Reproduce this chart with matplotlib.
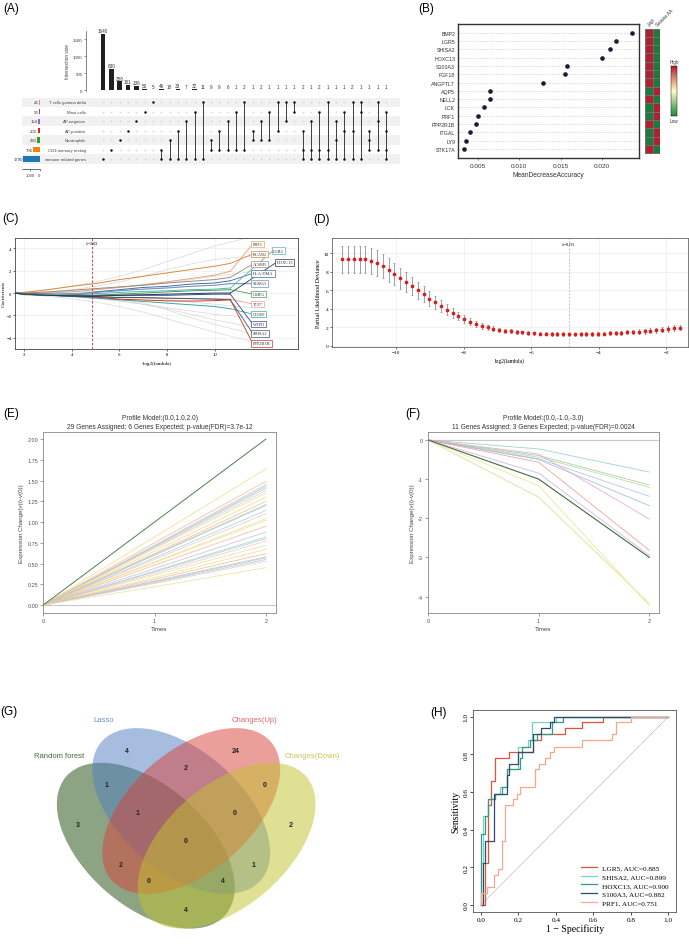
import numpy as np
import matplotlib
matplotlib.use("Agg")
import matplotlib.pyplot as plt
from matplotlib.patches import Ellipse
from matplotlib.colors import LinearSegmentedColormap, ListedColormap

W, H = 689, 945
SANS = ['Liberation Sans', 'DejaVu Sans']
SERIF = ['Liberation Serif', 'DejaVu Serif']
plt.rcParams['font.family'] = SANS

# ---------------- data ----------------
# (A) upset
set_names = ['T cells gamma delta', 'Mast cells', 'AP-negative', 'AP-positive',
             'Neutrophils', 'CD4 memory resting', 'immune related genes']
set_sizes = [26, 90, 154, 202, 291, 706, 1790]
set_colors = ['#e377c2', '#8c564b', '#9467bd', '#d62728', '#2ca02c', '#ff7f0e', '#1f77b4']
inter_counts = [1640, 630, 258, 151, 136, 50, 5, 46, 18, 33, 7, 32, 11, 9, 9, 6, 1, 2,
                1, 2, 1, 1, 1, 1, 2, 1, 2, 1, 1, 1, 2, 1, 1, 1, 1]
inter_sets = [[6], [5], [4], [3], [2], [1], [0], [5, 6], [4, 6], [3, 6], [2, 6], [1, 6],
              [0, 6], [4, 5], [3, 5], [2, 5], [1, 5], [0, 5], [3, 4], [2, 4], [1, 4],
              [0, 3], [0, 2], [0, 1], [3, 5, 6], [2, 5, 6], [1, 5, 6], [0, 5, 6],
              [2, 4, 6], [1, 3, 6], [0, 3, 6], [0, 1, 6], [3, 4, 5], [0, 2, 5], [1, 3, 5, 6]]

# (B) random forest importance
rf_genes = ['BMP2', 'LGR5', 'SHISA2', 'HOXC13', 'S100A3', 'FGF18', 'ANGPTL7', 'AQP5',
            'NELL2', 'LCK', 'PRF1', 'PPP2R1B', 'ITGAL', 'LY9', 'STK17A']
rf_mda = [0.0236, 0.0216, 0.0209, 0.0200, 0.0158, 0.0155, 0.0129, 0.0065, 0.0065,
          0.0057, 0.0050, 0.0048, 0.0041, 0.0036, 0.0034]
heat_aap = [1, 1, 1, 1, 1, 1, 1, 0, 1, 0, 0, 1, 0, 0, 1]
heat_severe = [0, 0, 0, 0, 0, 0, 0, 1, 0, 1, 1, 0, 1, 1, 0]

# (C) lasso coefficient paths
lasso_x = [1.62, 2, 3, 4, 5, 6, 7, 8, 9, 10, 10.66]
lasso_paths = {
    'PRF1':    [0, -0.05, 0, 0.1, 0.3, 0.5, 0.75, 1.0, 1.3, 1.6, 1.95],
    'RCAN2':   [0, 0.05, 0.3, 0.6, 0.85, 1.2, 1.5, 1.8, 2.1, 2.4, 2.65],
    'ACSM5':   [0, 0, 0.1, 0.25, 0.4, 0.55, 0.7, 0.9, 1.05, 1.2, 1.4],
    'HLA-DMA': [0, -0.1, -0.2, -0.2, 0.1, 0.3, 0.5, 0.6, 0.8, 0.9, 1.1],
    'S100A3':  [0, -0.05, -0.1, -0.05, 0.05, 0.2, 0.35, 0.45, 0.6, 0.7, 0.85],
    'GMFG':    [0, -0.15, -0.2, -0.25, -0.2, -0.1, 0, 0.1, 0.2, 0.25, 0.3],
    'TCF7':    [0, -0.05, -0.15, -0.25, -0.35, -0.4, -0.45, -0.5, -0.5, -0.5, -0.55],
    'CD109':   [0, -0.1, -0.2, -0.3, -0.45, -0.6, -0.75, -0.9, -1.05, -1.2, -1.4],
    'WIPI1':   [0, -0.1, -0.1, -0.15, -0.2, -0.2, -0.2, -0.2, -0.15, -0.1, -0.1],
    'SHISA2':  [0, -0.1, -0.2, -0.3, -0.35, -0.4, -0.4, -0.45, -0.5, -0.55, -0.6],
    'PPP2R1B': [0, -0.05, -0.15, -0.2, -0.35, -0.55, -0.62, -0.7, -0.72, -0.68, -0.6],
    'LGR5':    [0, -0.1, -0.15, -0.1, -0.05, 0.05, 0.15, 0.2, 0.3, 0.35, 0.45],
    'HOXC13':  [0, -0.1, -0.2, -0.25, -0.3, -0.2, -0.15, -0.1, -0.05, 0, 0.0],
}
lasso_colors = {'PRF1': '#E8A27C', 'RCAN2': '#D98A3D', 'ACSM5': '#9E8C7A',
                'HLA-DMA': '#3A6FB0', 'S100A3': '#6C8EBF', 'GMFG': '#4E9A58',
                'TCF7': '#F0A090', 'CD109': '#3BA7A0', 'WIPI1': '#2F4F8F',
                'SHISA2': '#3D5A6C', 'PPP2R1B': '#C0392B', 'LGR5': '#5AB4AC',
                'HOXC13': '#1F3A5F'}
lasso_label_pos = {'PRF1': (11.6, 4.39), 'RCAN2': (11.6, 3.49), 'ACSM5': (11.6, 2.6),
                   'HLA-DMA': (11.6, 1.76), 'S100A3': (11.6, 0.87), 'GMFG': (11.6, -0.09),
                   'TCF7': (11.6, -0.98), 'CD109': (11.6, -1.88), 'WIPI1': (11.6, -2.78),
                   'SHISA2': (11.6, -3.61), 'PPP2R1B': (11.6, -4.5),
                   'LGR5': (12.45, 3.79), 'HOXC13': (12.6, 2.75)}
gray_x = [1.62, 2, 3, 4, 5, 6, 7, 8, 9, 10, 11.5]
gray_paths = [
    [0, 0.1, 0.3, 0.6, 1.0, 1.5, 2.1, 2.8, 3.5, 4.2, 5.0],
    [0, 0, 0.1, 0.3, 0.6, 1.0, 1.5, 2.1, 2.6, 3.0, 3.3],
    [0, -0.05, -0.1, -0.2, -0.4, -0.7, -1.0, -1.4, -1.9, -2.4, -3.0],
    [0, -0.1, -0.3, -0.5, -0.8, -1.2, -1.7, -2.3, -2.9, -3.5, -4.3],
    [0, -0.1, -0.2, -0.3, -0.5, -0.7, -1.0, -1.3, -1.6, -1.9, -2.2],
    [0, 0.05, 0.1, 0.2, 0.35, 0.5, 0.7, 0.9, 1.2, 1.5, 1.9],
    [0, -0.05, -0.1, -0.15, -0.2, -0.3, -0.4, -0.6, -0.8, -1.0, -1.3],
    [0, 0, 0.05, 0.1, 0.15, 0.25, 0.35, 0.5, 0.6, 0.7, 0.8],
    [0, -0.05, -0.1, -0.2, -0.3, -0.5, -0.9, -1.5, -2.2, -2.8, -3.6],
]

# (D) cross-validation
cv_dev = [9.35, 9.35, 9.35, 9.35, 9.33, 9.2, 8.95, 8.6, 8.2, 7.75,
          7.3, 6.9, 6.45, 6.0, 5.55, 5.1, 4.7, 4.3, 3.9, 3.55,
          3.2, 2.9, 2.6, 2.35, 2.15, 1.98, 1.84, 1.72, 1.62, 1.54,
          1.47, 1.42, 1.38, 1.34, 1.31, 1.29, 1.27, 1.25, 1.24, 1.23,
          1.23, 1.24, 1.25, 1.27, 1.29, 1.31, 1.34, 1.37, 1.40, 1.44,
          1.48, 1.52, 1.57, 1.62, 1.68, 1.74, 1.81, 1.88, 1.96]
cv_se = [1.45, 1.45, 1.45, 1.45, 1.45, 1.42, 1.38, 1.33, 1.28, 1.22,
         1.15, 1.07, 0.99, 0.92, 0.85, 0.78, 0.71, 0.64, 0.58, 0.52,
         0.47, 0.42, 0.38, 0.34, 0.31, 0.28, 0.26, 0.24, 0.22, 0.21,
         0.20, 0.19, 0.19, 0.18, 0.18, 0.18, 0.18, 0.18, 0.18, 0.18,
         0.18, 0.18, 0.19, 0.19, 0.20, 0.20, 0.21, 0.22, 0.22, 0.23,
         0.24, 0.25, 0.26, 0.27, 0.28, 0.29, 0.30, 0.31, 0.32]
cv_loglam = np.linspace(-11.6, -1.6, len(cv_dev))
lambda_min_log2 = -4.89

# (E) / (F) STEM profiles
times = [0, 1, 2]
e_model = [0.0, 1.0, 2.0]
e_mid = [0.82, 0.75, 0.72, 0.71, 0.70, 0.69, 0.68, 0.65, 0.62, 0.61, 0.60, 0.57, 0.55, 0.52,
         0.51, 0.48, 0.44, 0.41, 0.40, 0.38, 0.36, 0.33, 0.31, 0.29, 0.28, 0.27, 0.26, 0.22]
e_end = [1.64, 1.49, 1.45, 1.43, 1.41, 1.38, 1.35, 1.30, 1.25, 1.21, 1.20, 1.14, 1.10, 1.04,
         1.02, 0.95, 0.88, 0.82, 0.80, 0.77, 0.72, 0.67, 0.62, 0.58, 0.57, 0.55, 0.53, 0.45]
f_model = [0.0, -1.0, -3.0]
f_mid = [-0.23, -0.40, -0.44, -0.48, -0.50, -0.36, -0.57, -0.85, -1.46, -1.17]
f_end = [-0.82, -1.15, -1.21, -1.44, -1.68, -2.02, -2.82, -2.95, -4.18, -4.23]
f_colors = ['#8FD3C8', '#9CCB9A', '#B5D99C', '#A9C4E4', '#9DB8E0', '#E8A6C8',
            '#F09A8A', '#C8B3E0', '#D4E08A', '#EDE58A']
e_palette = ['#F3D98B', '#F4B98A', '#C9B8E3', '#A9D3A6', '#A7CBE3', '#F2C2C8', '#E3E39A']

# (G) venn
venn_names = ['Random forest', 'Lasso', 'Changes(Up)', 'Changes(Down)']
venn_counts = [4, 24, 2, 1, 0, 3, 1, 0, 2, 0, 2, 1, 0, 4, 4]
venn_count_xy = [(126.7, 752), (235.7, 752), (186, 769), (106.7, 786), (265, 786),
                 (78.3, 826), (137.7, 814), (234.3, 814), (290.7, 826), (186, 842),
                 (121, 866), (254, 866), (149, 882), (223.3, 882), (186, 911)]

# (H) ROC
roc = {
    'LGR5, AUC=0.885': ([0, 0.02, 0.02, 0.04, 0.04, 0.055, 0.055, 0.075, 0.075, 0.15, 0.15, 0.28,
                         0.28, 0.32, 0.32, 0.45, 0.45, 0.54, 0.54, 0.65, 0.65, 1.0],
                        [0, 0, 0.22, 0.22, 0.53, 0.53, 0.66, 0.66, 0.78, 0.78, 0.81, 0.81,
                         0.875, 0.875, 0.906, 0.906, 0.938, 0.938, 0.969, 0.969, 1.0, 1.0]),
    'SHISA2, AUC=0.899': ([0, 0, 0.01, 0.01, 0.04, 0.04, 0.075, 0.075, 0.1, 0.1, 0.14, 0.14, 0.2,
                           0.2, 0.25, 0.25, 0.27, 0.27, 0.4, 0.4, 1.0],
                          [0, 0.22, 0.22, 0.47, 0.47, 0.56, 0.56, 0.59, 0.59, 0.625, 0.625,
                           0.72, 0.72, 0.84, 0.84, 0.875, 0.875, 0.97, 0.97, 1.0, 1.0]),
    'HOXC13, AUC=0.900': ([0, 0, 0.02, 0.02, 0.035, 0.035, 0.075, 0.075, 0.11, 0.11, 0.14, 0.14,
                           0.21, 0.21, 0.22, 0.22, 0.26, 0.26, 0.3, 0.3, 0.38, 0.38, 0.44, 0.44, 1.0],
                          [0, 0.375, 0.375, 0.47, 0.47, 0.56, 0.56, 0.59, 0.59, 0.625, 0.625,
                           0.72, 0.72, 0.78, 0.78, 0.84, 0.84, 0.875, 0.875, 0.906, 0.906,
                           0.97, 0.97, 1.0, 1.0]),
    'S100A3, AUC=0.882': ([0, 0.01, 0.01, 0.02, 0.02, 0.07, 0.07, 0.14, 0.14, 0.15, 0.15, 0.2,
                           0.2, 0.28, 0.28, 0.32, 0.32, 0.37, 0.37, 0.39, 0.39, 1.0],
                          [0, 0, 0.22, 0.22, 0.34, 0.34, 0.59, 0.59, 0.69, 0.69, 0.75, 0.75,
                           0.81, 0.81, 0.906, 0.906, 0.94, 0.94, 0.97, 0.97, 1.0, 1.0]),
    'PRF1, AUC=0.751': ([0, 0, 0.03, 0.03, 0.07, 0.07, 0.09, 0.09, 0.11, 0.11, 0.13, 0.13, 0.17,
                         0.17, 0.19, 0.19, 0.21, 0.21, 0.29, 0.29, 0.31, 0.31, 0.34, 0.34, 0.37,
                         0.37, 0.39, 0.39, 0.54, 0.54, 0.7, 0.7, 0.72, 0.72, 0.8, 0.8, 1.0],
                        [0, 0.06, 0.06, 0.094, 0.094, 0.156, 0.156, 0.19, 0.19, 0.34, 0.34,
                         0.53, 0.53, 0.56, 0.56, 0.59, 0.59, 0.625, 0.625, 0.72, 0.72, 0.75,
                         0.75, 0.78, 0.78, 0.81, 0.81, 0.84, 0.84, 0.875, 0.875, 0.906,
                         0.906, 0.97, 0.97, 1.0, 1.0]),
}
roc_colors = ['#E0533A', '#7DCFC0', '#2E9E86', '#2F4B6E', '#F2A98F']

# ---------------- figure ----------------
fig = plt.figure(figsize=(W / 100, H / 100), dpi=100)


def box(x0, y0, x1, y1):
    return fig.add_axes([x0 / W, 1 - y1 / H, (x1 - x0) / W, (y1 - y0) / H])


def panel(x, y, s):
    fig.text(x / W, 1 - y / H, s, fontsize=8.5, ha='left', va='top')


# ---- (A) upset ----
px_col = 8.32
ncol = len(inter_counts)
axb = box(86, 32, 395, 92)
cols = np.arange(ncol)
axb.bar(cols, inter_counts, width=0.55, color='#231f20')
for c, v in zip(cols, inter_counts):
    axb.text(c, v + 25, str(v), ha='center', va='bottom', fontsize=3.3, color='#333333')
axb.set_xlim((86 - 103) / px_col, (395 - 103) / px_col)
axb.set_ylim(-20, 1734)
axb.set_yticks([0, 500, 1000, 1500])
axb.set_xticks([])
for s in ['top', 'right', 'bottom']:
    axb.spines[s].set_visible(False)
axb.spines['left'].set_color('#555555')
axb.spines['left'].set_linewidth(0.5)
axb.tick_params(axis='y', labelsize=3.2, length=1.5, width=0.4, colors='#444444', pad=1)
axb.set_ylabel('Intersection size', fontsize=3.4, color='#444444', labelpad=2)
axb.patch.set_alpha(0)

axm = box(22, 98.6, 400, 164.7)
axm.set_xlim((22 - 103) / px_col, (400 - 103) / px_col)
axm.set_ylim(6.5, -0.5)
for r in range(0, 7, 2):
    axm.axhspan(r - 0.5, r + 0.5, color='#f1f1f1', lw=0, zorder=0)
for r in range(7):
    axm.scatter(cols, [r] * ncol, s=1.6, color='#d5d5d5', zorder=1, lw=0)
    axm.text(-2.0, r, set_names[r], ha='right', va='center', fontsize=3.1, color='#444444')
for c, members in enumerate(inter_sets):
    if len(members) > 1:
        axm.plot([c, c], [min(members), max(members)], color='#222222', lw=0.6, zorder=2)
    axm.scatter([c] * len(members), members, s=3.2, color='#111111', zorder=3, lw=0)
axm.axis('off')

axs = box(22, 98.6, 39.5, 164.7)
axs.barh(np.arange(7), set_sizes, height=0.55, color=set_colors)
axs.set_xlim(1890, 0)
axs.set_ylim(6.5, -0.5)
for r, v in enumerate(set_sizes):
    axs.text(v + 40, r, str(v), ha='right', va='center', fontsize=3.1, color='#333333')
axs.set_yticks([])
axs.set_xticks([1000, 0])
for s in ['top', 'right', 'left']:
    axs.spines[s].set_visible(False)
axs.spines['bottom'].set_position(('outward', 4))
axs.spines['bottom'].set_linewidth(0.4)
axs.tick_params(axis='x', labelsize=3.1, length=1.5, width=0.4, pad=1, colors='#444444')
axs.patch.set_alpha(0)
panel(3, 3, '(A)')

# ---- (B) random forest ----
nB = len(rf_genes)
axB = box(458, 25, 639, 159)
yB = np.arange(nB)
for yy in yB:
    axB.axhline(yy, color='#c4c4c4', ls=(0, (2.5, 2.5)), lw=0.45, zorder=1)
axB.scatter(rf_mda, yB, s=11, color='#1c1c38', zorder=3, lw=0)
axB.set_ylim(nB - 1 + 1.08, -1.05)
axB.set_xlim(0.00263, 0.02442)
axB.set_yticks(yB)
axB.set_yticklabels(rf_genes)
axB.set_xticks([0.005, 0.010, 0.015, 0.020])
axB.set_xticklabels(['0.005', '0.010', '0.015', '0.020'])
axB.tick_params(axis='y', length=0, labelsize=3.8, pad=2, colors='#333333')
axB.tick_params(axis='x', length=1.5, labelsize=4.6, width=0.4, pad=2, colors='#333333')
axB.set_xlabel('MeanDecreaseAccuracy', fontsize=4.8, color='#333333', labelpad=2)
for s in axB.spines.values():
    s.set_linewidth(1.0)
    s.set_color('#333333')

axH = box(645, 25, 660, 159)
heat = np.array([heat_aap, heat_severe]).T
axH.pcolormesh(np.arange(3), np.arange(nB + 1) - 0.5, heat,
               cmap=ListedColormap(['#1e7a3c', '#b0202f']), edgecolors='#6e6e6e', lw=0.5)
axH.set_ylim(nB - 1 + 1.08, -1.05)
axH.set_xlim(0, 2)
axH.axis('off')
for j, name in enumerate(['AAP', 'Severe AA']):
    axH.text(j + 0.3, -0.75, name, rotation=45, fontsize=3.3, ha='left', va='bottom',
             color='#333333')

axC = box(671, 67, 677, 117)
grad = np.linspace(1, 0, 100).reshape(-1, 1)
axC.imshow(grad, aspect='auto',
           cmap=LinearSegmentedColormap.from_list('rg', ['#1e8a3e', '#fdfdc0', '#b0202f']))
axC.set_xticks([])
axC.set_yticks([])
for s in axC.spines.values():
    s.set_linewidth(0.3)
fig.text(674 / W, 1 - 65 / H, 'High', fontsize=3.3, ha='center', va='bottom', color='#333333')
fig.text(674 / W, 1 - 119 / H, 'Low', fontsize=3.3, ha='center', va='top', color='#333333')
panel(418, 3, '(B)')

# ---- (C) lasso paths ----
axL = box(15, 239, 298, 350)
axL.set_xlim(1.62, 13.5)
axL.set_ylim(-5.0, 4.92)
axL.grid(True, color='#e8e8e8', lw=0.4)
axL.set_axisbelow(True)
for gp in gray_paths:
    axL.plot(gray_x, gp, color='#c8c8c8', lw=0.5, alpha=0.7)
for g, vals in lasso_paths.items():
    col = lasso_colors[g]
    axL.plot(lasso_x, vals, color=col, lw=0.7)
    lx, ly = lasso_label_pos[g]
    axL.plot([lasso_x[-1], lx], [vals[-1], ly], color=col, lw=0.6)
    axL.text(lx, ly, g, fontsize=3.2, family=SERIF, ha='left', va='center', color='#333333',
             bbox=dict(boxstyle='square,pad=0.3', fc='white', ec=col, lw=0.5))
axL.axvline(4.86, color='#d62728', ls=(0, (3, 2)), lw=0.6)
axL.text(4.86, 4.45, 'λ=0.03', fontsize=3.2, family=SERIF, ha='center', va='center')
axL.set_xticks([2, 4, 6, 8, 10])
axL.set_yticks([-4, -2, 0, 2, 4])
axL.tick_params(labelsize=3.4, length=1.5, width=0.4, pad=1)
for t in axL.get_xticklabels() + axL.get_yticklabels():
    t.set_family(SERIF)
axL.set_xlabel('-log2(lambda)', fontsize=3.8, family=SERIF, labelpad=3)
axL.set_ylabel('Coefficients', fontsize=3.8, family=SERIF, labelpad=0.5)
for s in axL.spines.values():
    s.set_linewidth(0.6)
    s.set_color('#444444')
panel(2, 213, '(C)')

# ---- (D) CV curve ----
axD = box(332, 239, 688, 348)
axD.set_xlim(-11.9, -1.35)
axD.set_ylim(-0.15, 11.65)
axD.grid(True, color='#e8e8e8', lw=0.4)
axD.set_axisbelow(True)
axD.errorbar(cv_loglam, cv_dev, yerr=cv_se, fmt='o', ms=1.7, color='#d62020',
             ecolor='#7a7a7a', elinewidth=0.5, capsize=0.9, capthick=0.4)
axD.axvline(lambda_min_log2, color='#b0b0b0', ls=(0, (3, 2)), lw=0.5)
axD.text(lambda_min_log2, 11.0, 'λ=0.03', fontsize=3.4, family=SERIF, ha='center', va='center')
axD.set_xticks([-10, -8, -6, -4, -2])
axD.set_yticks([0, 2, 4, 6, 8, 10])
axD.tick_params(labelsize=3.8, length=1.5, width=0.4, pad=1)
for t in axD.get_xticklabels() + axD.get_yticklabels():
    t.set_family(SERIF)
axD.set_xlabel('log2(lambda)', fontsize=4.0, family=SERIF, labelpad=2)
axD.set_ylabel('Partial Likelihood Deviance', fontsize=4.3, family=SERIF, labelpad=2)
for s in axD.spines.values():
    s.set_linewidth(0.6)
    s.set_color('#666666')
panel(313, 214, '(D)')


# ---- (E) / (F) STEM ----
def stem_axes(ax, title, ylim, yticks, fmt):
    ax.set_xlim(-0.002, 2.09)
    ax.set_ylim(*ylim)
    ax.axhline(0, color='#c8c8c8', lw=0.8, zorder=0)
    ax.set_xticks([0, 1, 2])
    ax.set_yticks(yticks)
    ax.set_yticklabels([fmt % v for v in yticks])
    ax.tick_params(labelsize=4.0, length=2, width=0.4, pad=1.5, colors='#555555')
    for s in ax.spines.values():
        s.set_linewidth(0.6)
        s.set_color('#888888')
    ax.set_title(title, fontsize=4.8, color='#333333', pad=3, linespacing=1.25)
    ax.set_xlabel('Times', fontsize=4.4, color='#444444', labelpad=2)
    ax.set_ylabel('Expression Change(v(i)-v(0))', fontsize=4.4, color='#444444', labelpad=2)


axE = box(43, 432.7, 276, 614)
for i, (m, e) in enumerate(zip(e_mid, e_end)):
    axE.plot(times, [0, m, e], color=e_palette[i % len(e_palette)], lw=0.6, alpha=0.85)
axE.plot(times, e_model, color='#4E7F52', lw=0.7)
stem_axes(axE, 'Profile Model:(0.0,1.0,2.0)\n29 Genes Assigned; 6 Genes Expected; '
          'p-value(FDR)=3.7e-12', (-0.096, 2.088), [0, 0.25, 0.5, 0.75, 1.0, 1.25, 1.5,
                                                   1.75, 2.0], '%.2f')
panel(3, 408, '(E)')

axF = box(427.7, 432.7, 659.3, 614)
for m, e, c in zip(f_mid, f_end, f_colors):
    axF.plot(times, [0, m, e], color=c, lw=0.6, alpha=0.9)
axF.plot(times, f_model, color='#3F6B45', lw=0.8)
stem_axes(axF, 'Profile Model:(0.0,-1.0,-3.0)\n11 Genes Assigned; 3 Genes Expected; '
          'p-value(FDR)=0.0024', (-4.42, 0.21), [-4, -3, -2, -1, 0], '%d')
panel(405, 408, '(F)')

# ---- (G) venn ----
axG = box(0, 700, 330, 945)
axG.set_xlim(0, 330)
axG.set_ylim(945, 700)
axG.axis('off')
ell_specs = [((145.8, 846.7), 41, '#1A4A0A'), ((181.2, 812), 41, '#517DC3'),
             ((191.2, 812), -41, '#D94137'), ((226.6, 846.7), -41, '#C3C32D')]
for (cx, cy), ang, col in ell_specs:
    axG.add_patch(Ellipse((cx, cy), 211, 121, angle=ang, facecolor=col, alpha=0.5, lw=0))
for (x, y), v in zip(venn_count_xy, venn_counts):
    axG.text(x, y, str(v), ha='center', va='center', fontsize=5, fontweight='bold',
             color='#222222')
name_xy = [(59, 757), (104, 721), (254, 721), (312, 757)]
name_col = ['#3E6B35', '#6C8FD0', '#E06666', '#C8C850']
for (x, y), n, c in zip(name_xy, venn_names, name_col):
    axG.text(x, y, n, ha='center', va='center', fontsize=5.5, color=c)
panel(0, 706, '(G)')

# ---- (H) ROC ----
axR = box(473.3, 710.7, 676, 913.3)
axR.plot([0, 1], [0, 1], color='#c0c0c0', lw=0.5)
for (name, (fpr, tpr)), c in zip(roc.items(), roc_colors):
    axR.plot(fpr, tpr, color=c, lw=0.9, label=name)
axR.set_xlim(-0.041, 1.041)
axR.set_ylim(-0.04, 1.037)
ticks = [0, 0.2, 0.4, 0.6, 0.8, 1.0]
axR.set_xticks(ticks)
axR.set_yticks(ticks)
axR.set_xticklabels(['%.1f' % t for t in ticks])
axR.set_yticklabels(['%.1f' % t for t in ticks], rotation=90, va='center')
axR.tick_params(labelsize=5.2, length=2, width=0.5, pad=1.5)
for t in axR.get_xticklabels() + axR.get_yticklabels():
    t.set_family(SERIF)
axR.set_xlabel('1 − Specificity', fontsize=7, family=SERIF, labelpad=1)
axR.set_ylabel('Sensitivity', fontsize=7, family=SERIF, labelpad=2)
for s in axR.spines.values():
    s.set_linewidth(0.6)
    s.set_color('#555555')
leg = axR.legend(loc='lower right', frameon=False, handlelength=2.2,
                 borderaxespad=0.6, labelspacing=0.35, prop={'family': SERIF, 'size': 5.2})
panel(430, 707, '(H)')

fig.savefig('out.png', dpi=100)
